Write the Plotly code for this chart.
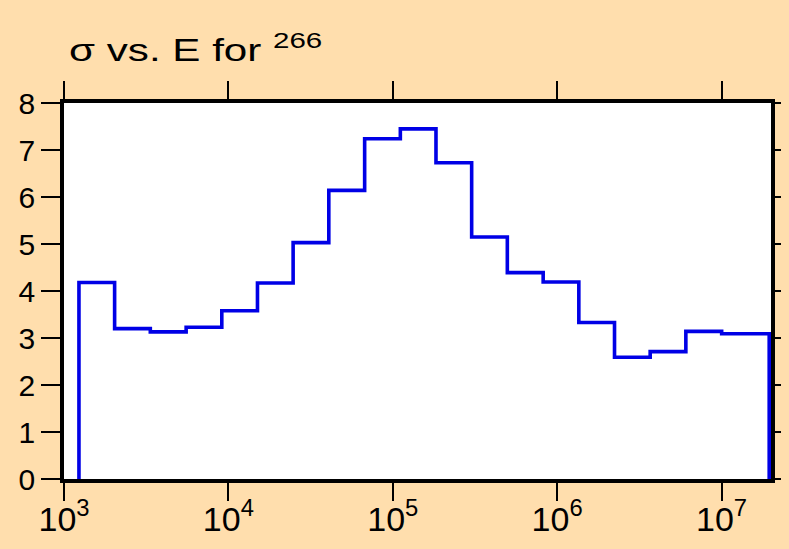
import plotly.graph_objects as go

# Bin edges (energy, eV) and cross-section values
bin_edges = [1.233e3, 2.032e3, 3.350e3, 5.534e3, 9.120e3, 1.503e4, 2.477e4,
             4.083e4, 6.745e4, 1.112e5, 1.832e5, 3.020e5, 4.977e5, 8.222e5,
             1.355e6, 2.234e6, 3.681e6, 6.067e6, 1.002e7, 1.950e7]
sigma = [4.18, 3.20, 3.13, 3.23, 3.58, 4.17, 5.03, 6.14, 7.24, 7.45,
         6.73, 5.15, 4.39, 4.19, 3.33, 2.59, 2.71, 3.14, 3.09]

x_tick_vals = [1e3, 1e4, 1e5, 1e6, 1e7]
x_tick_text = ["10<sup>3</sup>", "10<sup>4</sup>", "10<sup>5</sup>",
               "10<sup>6</sup>", "10<sup>7</sup>"]
y_tick_vals = [0, 1, 2, 3, 4, 5, 6, 7, 8]

# Build the histogram outline
xs = [bin_edges[0]]
ys = [0]
for i, v in enumerate(sigma):
    xs += [bin_edges[i], bin_edges[i + 1]]
    ys += [v, v]
xs.append(bin_edges[-1])
ys.append(0)

BG = "#FFDEAD"
FONT = "Liberation Sans, Arial, sans-serif"
PAD = 8  # default page body margin around the figure

fig = go.Figure()
fig.add_trace(go.Scatter(x=xs, y=ys, mode="lines",
                         line=dict(color="#0000E6", width=3.6),
                         hoverinfo="skip", showlegend=False))

W, H = 789 - 2 * PAD, 549 - 2 * PAD
fig.update_layout(
    width=W, height=H, autosize=False,
    paper_bgcolor=BG, plot_bgcolor="white",
    margin=dict(l=64 - PAD, r=18 - PAD, t=103 - PAD, b=70 - PAD, pad=0),
    font=dict(family=FONT, color="black"),
    title=dict(text="σ vs. E for <sup>266</sup>", x=(69 - PAD) / W, xanchor="left",
               xref="container", yref="container", y=1 - (50 - PAD) / H, yanchor="middle",
               font=dict(size=31, family=FONT, color="black")),
    showlegend=False,
)
fig.update_xaxes(type="log", range=[3, 7.301], tickvals=x_tick_vals, ticktext=x_tick_text,
                 ticks="outside", ticklen=18, tickwidth=2, tickcolor="black",
                 showline=True, linecolor="black", linewidth=3.5, mirror="ticks",
                 automargin=False, ticklabelstandoff=-11,
                 showgrid=False, zeroline=False, tickfont=dict(size=34, family=FONT))
fig.update_yaxes(range=[0, 8], tickvals=y_tick_vals,
                 ticks="outside", ticklen=19, tickwidth=2, tickcolor="black",
                 showline=True, linecolor="black", linewidth=3.5, mirror="ticks",
                 automargin=False,
                 showgrid=False, zeroline=False, tickfont=dict(size=30, family=FONT))

post = """
document.body.style.background='%s';
document.documentElement.style.background='%s';
var gd = document.getElementById('{plot_id}');
var t = gd.querySelector('.gtitle');
if (t) {
  var x0 = parseFloat(t.getAttribute('x')) || 0;
  t.setAttribute('transform', 'translate(' + x0 + ',0) scale(1.36,1) translate(' + (-x0) + ',0)');
}
""" % (BG, BG)

fig.write_html("out.html", post_script=post, config={"displayModeBar": False})
